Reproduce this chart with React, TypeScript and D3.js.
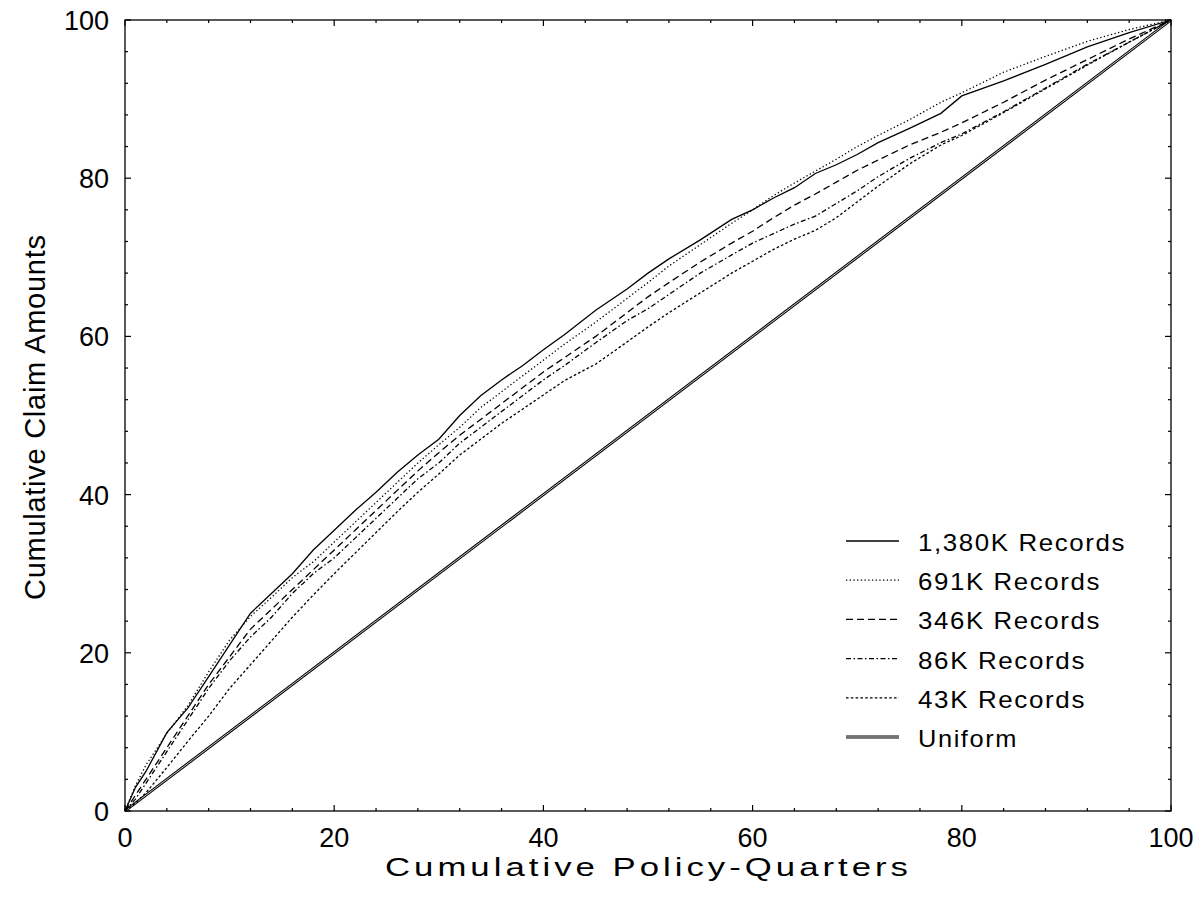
import React from "react";
import * as d3 from "d3";

const xs = [0,1,2,4,6,8,10,12,14,16,18,20,22,24,26,28,30,32,34,36,38,40,42,45,48,50,52,55,58,60,62,64,66,68,70,72,75,78,80,84,88,92,96,100];

const s1380 = [0,3,5,9.9,13,17,21,25,27.5,30,33,35.5,38,40.3,42.8,45,47,50,52.5,54.5,56.3,58.3,60.2,63.3,66,68,69.8,72.2,74.8,76,77.5,78.8,80.6,81.7,83,84.5,86.3,88.2,90.4,92.3,94.4,96.6,98.4,100];
const s691 = [0,3.2,5.8,9.8,13.3,17.6,21.6,24.6,27,29.5,31.5,34,36.5,39,41.5,44,46.3,48.5,51,53,55,57,59,61.8,64.8,66.8,68.9,71.6,74.3,76,77.8,79.4,80.9,82.4,84,85.4,87.4,89.6,90.8,93.4,95.4,97.3,98.8,100];
const s346 = [0,2,4,8,12,16,19.5,23,25.5,28,30.5,33,35.5,38,40.5,43,45.3,47.5,49.5,51.5,53.5,55.5,57.3,60,63,65,66.8,69.4,71.8,73.3,75,76.6,78,79.5,81,82.3,84.2,85.8,87,89.6,92.4,95,97.6,100];
const s86 = [0,1.5,3.5,7.5,11.5,15.5,19,22,24.5,27.5,30,32,34.5,37,39.5,42,44,46.5,48.5,50.5,52.5,54.5,56.3,59.2,62,63.5,65.3,68,70.3,71.8,73,74.2,75.2,76.8,78.4,80.2,82.5,84.5,85.6,88.4,91.4,94.4,97.2,100];
const s43 = [0,1,2.3,5.5,8.8,12,15.5,18.5,21.5,24.5,27.3,30,32.6,35.2,37.8,40.3,42.6,45,47,49,50.8,52.6,54.4,56.5,59.3,61.2,63,65.5,68,69.5,71,72.3,73.4,75,77,79,81.8,84.2,85.4,88.3,91.3,94.3,97.2,100];
const uniform = [0, 100];

const seriesNames = ["1,380K Records", "691K Records", "346K Records", "86K Records", "43K Records", "Uniform"];
const xTicks = [0, 20, 40, 60, 80, 100];
const yTicks = [0, 20, 40, 60, 80, 100];
const xTitle = "Cumulative Policy-Quarters";
const yTitle = "Cumulative Claim Amounts";

const W = 1203, H = 907;
const L = 125, R = 1171, T = 20, B = 811;
const FONT = "'Liberation Sans', Arial, Helvetica, sans-serif";

const dashes = [null, "1.3,2.4", "7,4", "5,2.5,1.5,2.5", "2.6,2.2"];
const legendWidths = [208, 183, 183, 168, 168, 100];

export default function App() {
  const x = d3.scaleLinear().domain([0, 100]).range([L, R]);
  const y = d3.scaleLinear().domain([0, 100]).range([B, T]);
  const line = d3.line<[number, number]>().x(d => x(d[0])).y(d => y(d[1]));
  const series = [s1380, s691, s346, s86, s43];
  const minor = d3.range(0, 101, 4);

  return (
    <svg width={W} height={H} style={{ position: "absolute", left: 0, top: 0, background: "#fff" }}>
      <rect width={W} height={H} fill="#fff" />
      {/* uniform double line */}
      <path d={line([[0, uniform[0]], [100, uniform[1]]])!} stroke="#000" strokeWidth={2.8} fill="none" />
      <path d={line([[0, uniform[0]], [100, uniform[1]]])!} stroke="#fff" strokeWidth={0.8} fill="none" />
      {series.map((s, i) => (
        <path key={i} d={line(xs.map((v, j) => [v, s[j]] as [number, number]))!}
          stroke="#000" strokeWidth={1.3} fill="none"
          strokeDasharray={dashes[i] ?? undefined} />
      ))}
      {/* frame */}
      <rect x={L} y={T} width={R - L} height={B - T} fill="none" stroke="#000" strokeWidth={1.3} />
      {minor.map(v => {
        const len = v % 20 === 0 ? 6 : 3;
        return (
          <g key={v}>
            <line x1={x(v)} x2={x(v)} y1={B} y2={B - len} stroke="#000" strokeWidth={1.2} />
            <line x1={x(v)} x2={x(v)} y1={T} y2={T + len} stroke="#000" strokeWidth={1.2} />
            <line x1={L} x2={L + len} y1={y(v)} y2={y(v)} stroke="#000" strokeWidth={1.2} />
            <line x1={R} x2={R - len} y1={y(v)} y2={y(v)} stroke="#000" strokeWidth={1.2} />
          </g>
        );
      })}
      {xTicks.map(v => (
        <text key={"x" + v} x={x(v)} y={847} textAnchor="middle" fontFamily={FONT} fontSize={27}>{v}</text>
      ))}
      {yTicks.map(v => (
        <text key={"y" + v} x={109} y={y(v) + 10} textAnchor="end" fontFamily={FONT} fontSize={27}>{v}</text>
      ))}
      <text x={385} y={876} fontFamily={FONT} fontSize={26} letterSpacing={3} textLength={527} lengthAdjust="spacingAndGlyphs">{xTitle}</text>
      <text transform={`translate(45,600) rotate(-90)`} x={0} y={0} fontFamily={FONT} fontSize={29} textLength={365} lengthAdjust="spacing">{yTitle}</text>
      {seriesNames.map((n, i) => {
        const ly = 541 + i * 39.2;
        return (
          <g key={n}>
            {i < 5 ? (
              <line x1={846} x2={899} y1={ly} y2={ly} stroke="#000" strokeWidth={1.3} strokeDasharray={dashes[i] ?? undefined} />
            ) : (
              <g>
                <line x1={846} x2={899} y1={ly} y2={ly} stroke="#000" strokeWidth={3} />
                <line x1={846} x2={899} y1={ly} y2={ly} stroke="#fff" strokeWidth={0.9} />
              </g>
            )}
            <text x={918} y={ly + 10} fontFamily={FONT} fontSize={24} letterSpacing={1.5} textLength={legendWidths[i]} lengthAdjust="spacingAndGlyphs">{n}</text>
          </g>
        );
      })}
    </svg>
  );
}
